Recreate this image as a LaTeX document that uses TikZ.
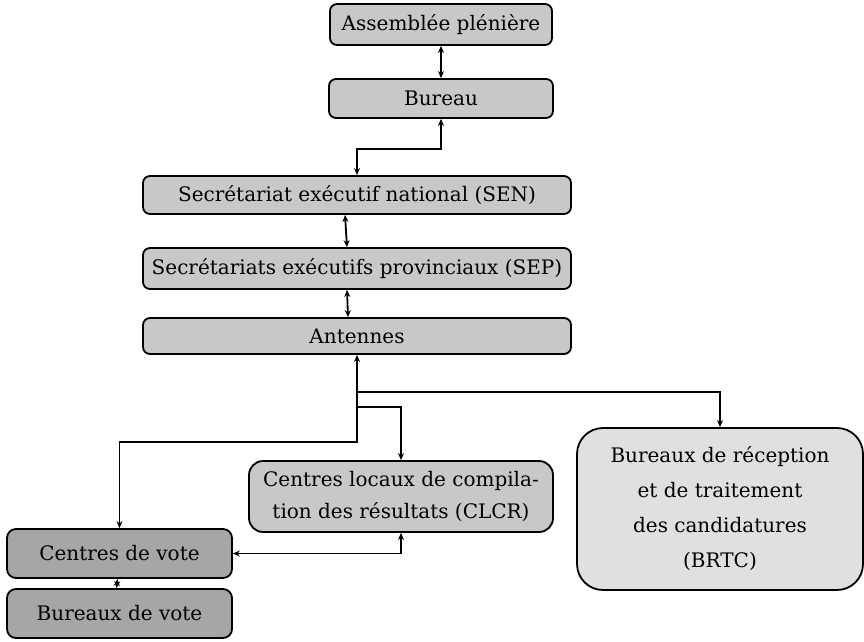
\documentclass[tikz,border=0pt]{standalone}
\usepackage{fontspec}
\setmainfont{DejaVu Serif}
\usetikzlibrary{arrows.meta}
\definecolor{boxgray}{RGB}{200,200,200}
\definecolor{darkgray2}{RGB}{166,166,166}
\definecolor{lightgray2}{RGB}{224,224,224}
\begin{document}
\begin{tikzpicture}[x=1pt,y=-1pt,
  box/.style={draw=black, line width=1.8pt, rounded corners=7pt, fill=boxgray,
    inner sep=0pt, align=center, font=\fontsize{20}{32}\selectfont},
  conn/.style={line width=1.8pt, {Stealth[length=7pt,width=6pt]}-{Stealth[length=7pt,width=6pt]}},
  oneway/.style={line width=1.8pt, -{Stealth[length=7pt,width=6pt]}}]
\useasboundingbox (0,0) rectangle (864,641);
\node[box, minimum width=222pt, minimum height=41pt] (AP) at (441,24.5) {Assemblée plénière};
\node[box, minimum width=224pt, minimum height=39pt] (BU) at (441,98.5) {Bureau};
\node[box, minimum width=428pt, minimum height=38pt] (SEN) at (357,195) {Secrétariat exécutif national (SEN)};
\node[box, minimum width=428pt, minimum height=41pt] (SEP) at (357,268.5) {Secrétariats exécutifs provinciaux (SEP)};
\node[box, minimum width=428pt, minimum height=36pt] (ANT) at (357,336) {Antennes};
\node[box, minimum width=304pt, minimum height=71pt, rounded corners=14pt] (CLCR) at (401,496.5) {Centres locaux de compila-\\tion des résultats (CLCR)};
\node[box, fill=darkgray2, minimum width=225pt, minimum height=49pt, rounded corners=9pt] (CV) at (119.5,553.5) {Centres de vote};
\node[box, fill=darkgray2, minimum width=225pt, minimum height=49pt, rounded corners=9pt] (BV) at (119.5,613.5) {Bureaux de vote};
\node[box, fill=lightgray2, minimum width=286pt, minimum height=162pt, rounded corners=26pt, font=\fontsize{20}{35}\selectfont] (BRTC) at (720,509) {Bureaux de réception\\et de traitement\\des candidatures\\(BRTC)};
\coordinate (J1) at (357,392);
\coordinate (J2) at (357,407);
\draw[conn] (AP) -- (BU);
\draw[conn] (BU.south) -- ++(0,30) -| (SEN.north);
\draw[conn] ([xshift=-12pt]SEN.south) -- ([xshift=-10pt]SEP.north);
\draw[conn] ([xshift=-10pt]SEP.south) -- ([xshift=-9pt]ANT.north);
\draw[conn] (ANT.south) -- ++(0,87) -| (CV.north);
\draw[oneway] (J1) -| (BRTC.north);
\draw[oneway] (J2) -| (CLCR.north);
\draw[conn] (CV.east) -| (CLCR.south);
\draw[conn] ([xshift=-2pt]CV.south) -- ([xshift=-3pt]BV.north);
\end{tikzpicture}
\end{document}
